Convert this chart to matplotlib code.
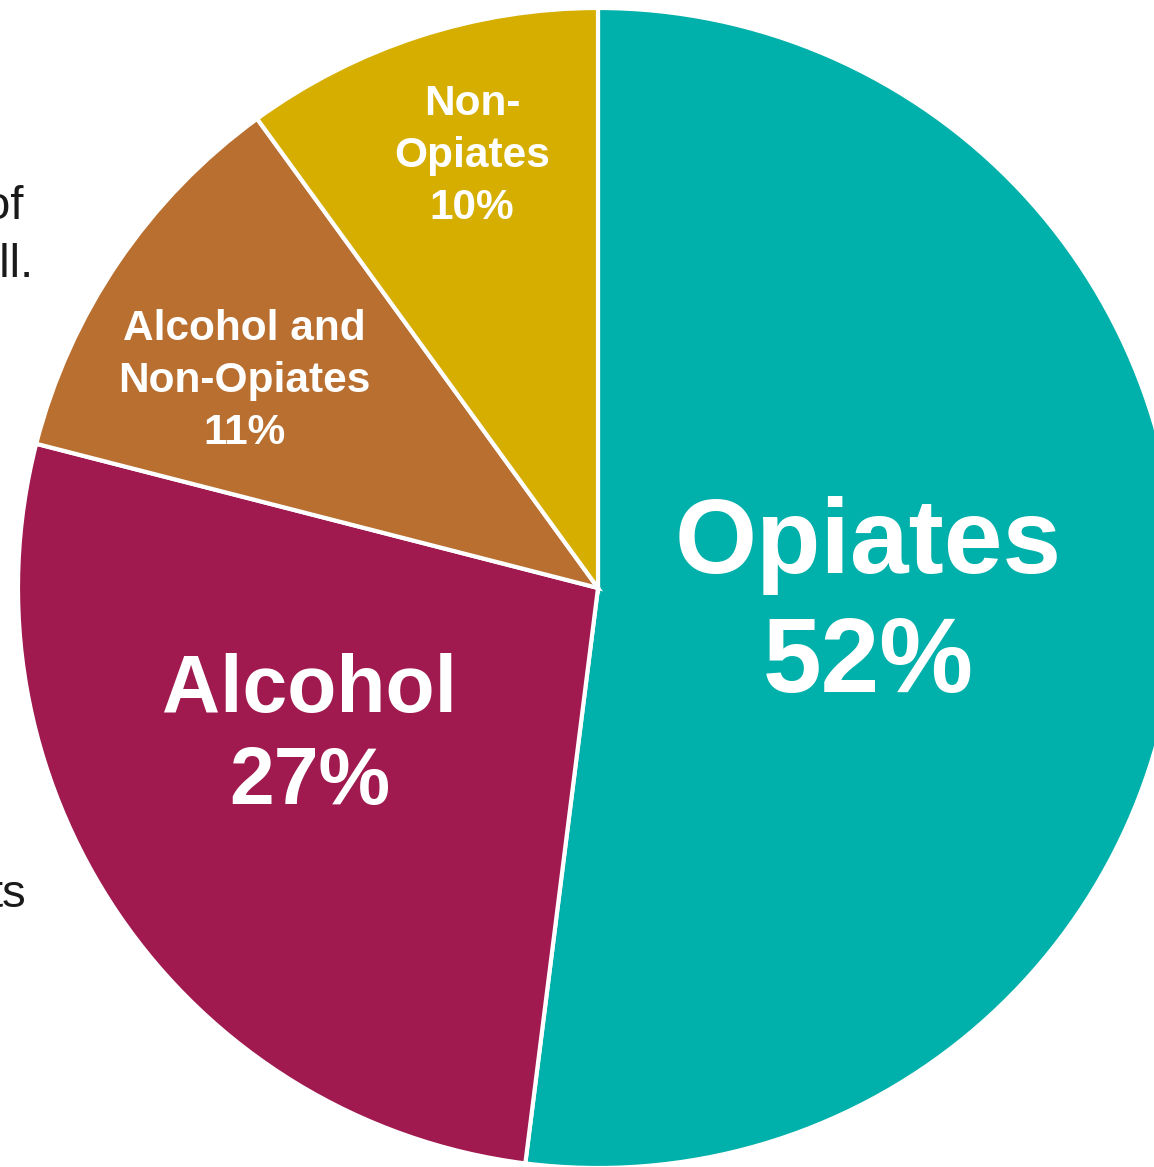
import matplotlib
matplotlib.use("Agg")
import matplotlib.pyplot as plt

plt.rcParams['font.family'] = ['Liberation Sans', 'DejaVu Sans']

# Data
categories = ["Opiates", "Alcohol", "Alcohol and\nNon-Opiates", "Non-\nOpiates"]
shares = [52, 27, 11, 10]
colors = ["#00B0AA", "#A01A50", "#B96F30", "#D6AE00"]
label_sizes = [76, 58, 30.5, 30.5]

W, H = 1154, 1167
fig = plt.figure(figsize=(W / 100, H / 100), dpi=100)
ax = fig.add_axes([0, 0, 1, 1])

cx, cy, R = 598, H - 588, 580
ax.pie(shares, colors=colors, startangle=90, counterclock=False,
       center=(cx, cy), radius=R, frame=True,
       wedgeprops=dict(edgecolor='white', linewidth=3))
ax.set_xlim(0, W)
ax.set_ylim(0, H)
ax.set_aspect('equal')
ax.axis('off')

# label anchor positions (pixels from top-left)
label_pos = [(868, 605), (310, 737), (244, 381), (472, 156)]
linesp = [1.26, 1.28, 1.38, 1.38]
for cat, s, fs, (lx, ly), ls in zip(categories, shares, label_sizes, label_pos, linesp):
    ax.text(lx, H - ly, f"{cat}\n{s}%", ha='center', va='center',
            color='white', fontsize=fs, fontweight='bold',
            linespacing=ls, multialignment='center')

# cut-off surrounding slide text on the left edge
ax.text(24, H - 207, "of", ha='right', va='center', fontsize=34, color='#1a1a1a')
ax.text(33, H - 265, "ell.", ha='right', va='center', fontsize=34, color='#1a1a1a')
ax.text(26, H - 895, "ts", ha='right', va='center', fontsize=34, color='#1a1a1a')

fig.savefig("out.png", dpi=100, facecolor='white')
